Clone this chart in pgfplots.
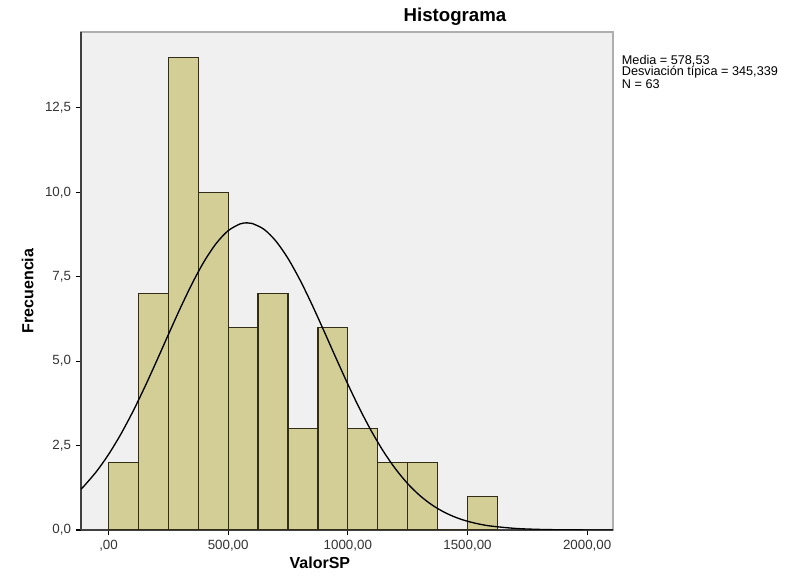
\documentclass[border=0pt]{standalone}
\usepackage{pgfplots}
\pgfplotsset{compat=1.18}
\usetikzlibrary{calc}
\usepackage{fontspec}
\setmainfont{Liberation Sans}
\definecolor{barfill}{RGB}{211,205,150}
\definecolor{bardraw}{RGB}{50,45,25}
\definecolor{plotbg}{RGB}{240,240,240}
\definecolor{frameg}{RGB}{175,175,175}
\begin{document}
\begin{tikzpicture}
\begin{axis}[
  scale only axis,
  width=399pt, height=373.5pt,
  xmin=-115, xmax=2108,
  ymin=0, ymax=14.75,
  axis lines=left,
  axis line style={-, draw=black!75, line width=1.2pt},
  axis background/.style={fill=plotbg, draw=frameg, line width=0.8pt},
  tick align=outside,
  major tick length=4pt,
  tick style={black, line width=0.8pt},
  xtick={0,500,1000,1500,2000},
  xticklabels={{,00},{500,00},{1000,00},{1500,00},{2000,00}},
  ytick={0,2.5,5,7.5,10,12.5},
  yticklabels={{0,0},{2,5},{5,0},{7,5},{10,0},{12,5}},
  tick label style={font=\fontsize{10}{11}\selectfont, text=black!80},
  xlabel={ValorSP},
  ylabel={Frecuencia},
  label style={font=\fontsize{12}{14}\selectfont\bfseries},
  xlabel style={at={(axis description cs:0.449,0)}, anchor=north, yshift=-17pt},
  ylabel style={at={(axis description cs:0,0.48)}, anchor=south, yshift=32pt},
  clip=true,
]
\addplot[ybar interval, fill=barfill, draw=bardraw, line width=0.9pt] coordinates {
(0,2) (125,7) (250,14) (375,10) (500,6) (625,7) (750,3) (875,6) (1000,3) (1125,2) (1250,2) (1375,0) (1500,1) (1625,1)
};
\addplot[black, line width=1pt, smooth, no markers] coordinates {
(-115,1.211) (-100,1.3203) (-50,1.7358) (0,2.2358) (50,2.8201) (100,3.4830) (150,4.2125) (200,4.9892) (250,5.7862) (300,6.5710) (350,7.3081) (400,7.9592) (450,8.4880) (500,8.8648) (550,9.0661) (578.53,9.097) (600,9.0794) (650,8.9042) (700,8.5514) (750,8.0419) (800,7.4060) (850,6.6789) (900,5.8981) (950,5.1006) (1000,4.3195) (1050,3.5822) (1100,2.9093) (1150,2.3134) (1200,1.8018) (1250,1.3738) (1300,1.0258) (1350,0.7501) (1400,0.5374) (1450,0.3767) (1500,0.2587) (1550,0.1739) (1600,0.1146) (1700,0.0467) (1800,0.0175) (1900,0.0060) (2000,0.0019) (2108,0.0005)
};
\end{axis}
\node[font=\fontsize{14}{16}\selectfont\bfseries, anchor=base] at ($(current axis.north west)!0.703!(current axis.north east)+(0,8pt)$) {Histograma};
\node[font=\fontsize{9.5}{8.5}\selectfont, anchor=north west, align=left, inner sep=0pt] at ($(current axis.north east)+(6.5pt,-17pt)$) {Media = 578,53\\Desviación típica = 345,339\\N = 63};
\pgfresetboundingbox
\useasboundingbox ($(current axis.south west)+(-60.75pt,-42.75pt)$) rectangle ($(current axis.north east)+(141pt,24pt)$);
\end{tikzpicture}
\end{document}
